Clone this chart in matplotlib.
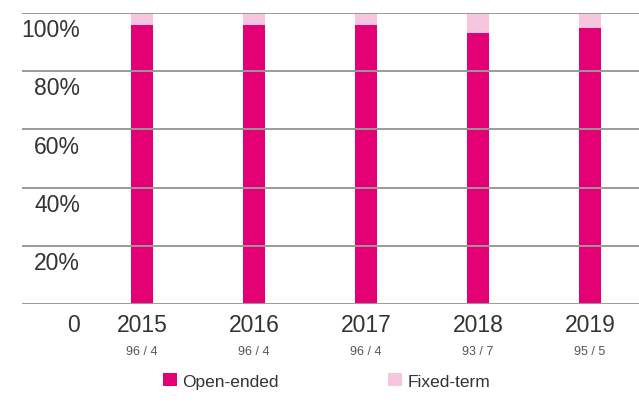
import numpy as np
import matplotlib
matplotlib.use("Agg")
from matplotlib import pyplot as plt
from matplotlib.transforms import blended_transform_factory

plt.rcParams['font.family'] = ['Liberation Sans', 'DejaVu Sans']

# data
years = ['2015', '2016', '2017', '2018', '2019']
open_ended = [96, 96, 96, 93, 95]
fixed_term = [4, 4, 4, 7, 5]
y_ticks = [20, 40, 60, 80, 100]
y_labels = ['20%', '40%', '60%', '80%', '100%']

magenta = '#E20074'
pink = '#F5C6DE'
grid_col = '#9a9a9a'

fig = plt.figure(figsize=(6.39, 4.06), dpi=100)
W, H = 639, 406
ax = fig.add_axes([22 / W, 1 - 305 / H, 617 / W, 291 / H])

x = np.arange(len(years))
bw = 0.205
b1 = ax.bar(x, open_ended, bw, color=magenta, zorder=2, label='Open-ended')
b2 = ax.bar(x, fixed_term, bw, bottom=open_ended, color=pink, zorder=2, label='Fixed-term')

# gridlines drawn on top of the bars
for v in [0] + y_ticks:
    ax.axhline(v, color=grid_col, lw=1.4, zorder=3)

ax.set_xlim(-1.0715, 4.4377)
ax.set_ylim(0, 100)
ax.set_xticks([])
ax.set_yticks([])
for s in ax.spines.values():
    s.set_visible(False)

trans = blended_transform_factory(ax.transAxes, ax.transData)
for v, lab in zip(y_ticks, y_labels):
    ax.text(0.094, v - 1.8, lab, transform=trans, ha='right', va='top',
            fontsize=16.5, color='#333333')
ax.text(0.094, -3.0, '0', transform=trans, ha='right', va='top',
        fontsize=16.5, color='#333333')

for xi, yr, o, f in zip(x, years, open_ended, fixed_term):
    ax.text(xi, -3.0, yr, ha='center', va='top', fontsize=16.5, color='#333333',
            clip_on=False)
    ax.text(xi, -14.0, f'{o} / {f}', ha='center', va='top', fontsize=9,
            color='#555555', clip_on=False)

fig.legend(handles=[b1, b2], loc='center left', bbox_to_anchor=(147 / W, 1 - 382 / H),
           ncol=2, frameon=False, fontsize=12.5, handlelength=0.8, handleheight=0.8,
           handletextpad=0.3, columnspacing=6.35, labelcolor='#333333')

fig.savefig('out.png', dpi=100)
